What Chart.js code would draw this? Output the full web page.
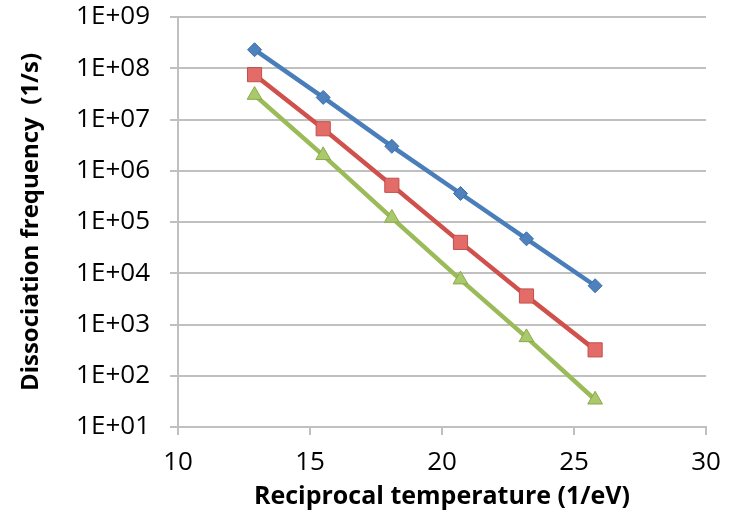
<!DOCTYPE html>
<html>
<head>
<meta charset="utf-8">
<script src="https://cdn.jsdelivr.net/npm/chart.js@4.4.1/dist/chart.umd.min.js"></script>
<style>
  html, body { margin: 0; padding: 0; background: #fff; }
  #wrap { width: 735px; height: 523px; }
</style>
</head>
<body>
<div id="wrap"><canvas id="grafico" width="735" height="523"></canvas></div>
<script>
// valores
const temperaturaRecip = [12.9, 15.5, 18.1, 20.7, 23.2, 25.8];
const serieAzul = [2.3e8, 2.7e7, 3.0e6, 3.6e5, 4.7e4, 5.7e3];
const serieRoja = [7.5e7, 6.6e6, 5.2e5, 4.0e4, 3.6e3, 3.2e2];
const serieVerde = [3.0e7, 2.0e6, 1.2e5, 7.5e3, 5.6e2, 34];

const ticksY = [1e1, 1e2, 1e3, 1e4, 1e5, 1e6, 1e7, 1e8, 1e9];
const etiquetasY = ["1E+01", "1E+02", "1E+03", "1E+04", "1E+05", "1E+06", "1E+07", "1E+08", "1E+09"];
const ticksX = [10, 15, 20, 25, 30];

const gris = "#c0c0c0";
const fuente = "'Open Sans', sans-serif";

function puntos(serie) {
  return temperaturaRecip.map((t, i) => ({ x: t, y: serie[i] }));
}

const ctx = document.getElementById("grafico").getContext("2d");

new Chart(ctx, {
  type: "line",
  data: {
    datasets: [
      {
        data: puntos(serieAzul),
        borderColor: "#4a7ebb",
        borderWidth: 4.5,
        pointStyle: "rectRot",
        pointRadius: 7,
        pointBackgroundColor: "#4f81bd",
        pointBorderColor: "#3d6ea8",
        pointBorderWidth: 1
      },
      {
        data: puntos(serieRoja),
        borderColor: "#d0504c",
        borderWidth: 4.5,
        pointStyle: "rect",
        pointRadius: 10,
        pointBackgroundColor: "#e46c68",
        pointBorderColor: "#c0504d",
        pointBorderWidth: 1
      },
      {
        data: puntos(serieVerde),
        borderColor: "#9bbb59",
        borderWidth: 4.5,
        pointStyle: "triangle",
        pointRadius: 8.5,
        pointBackgroundColor: "#a9c96a",
        pointBorderColor: "#8aa84c",
        pointBorderWidth: 1
      }
    ]
  },
  options: {
    responsive: false,
    animation: false,
    clip: false,
    layout: { padding: { top: 17, right: 29, left: 0, bottom: 0 } },
    plugins: { legend: { display: false }, tooltip: { enabled: false } },
    elements: { line: { tension: 0 } },
    scales: {
      x: {
        type: "linear",
        min: 10,
        max: 30,
        afterBuildTicks: s => { s.ticks = ticksX.map(v => ({ value: v })); },
        afterFit: s => { s.height = 96; s.paddingLeft = 0; s.paddingRight = 0; },
        grid: { drawOnChartArea: false, drawTicks: true, tickLength: 8, color: gris, lineWidth: 2 },
        border: { display: true, color: gris, width: 2 },
        ticks: { color: "#000", padding: 12, font: { family: fuente, size: 26 } },
        title: {
          display: true,
          text: "Reciprocal temperature (1/eV)",
          color: "#000",
          padding: { top: 0, bottom: 11 },
          font: { family: fuente, size: 25, weight: "bold" }
        }
      },
      y: {
        type: "logarithmic",
        min: 10,
        max: 1e9,
        afterBuildTicks: s => { s.ticks = ticksY.map(v => ({ value: v })); },
        afterFit: s => { s.width = 178; s.paddingTop = 0; s.paddingBottom = 0; },
        grid: { color: gris, lineWidth: 2, tickLength: 8 },
        border: { display: true, color: gris, width: 2 },
        ticks: {
          color: "#000",
          padding: 20,
          font: { family: fuente, size: 26 },
          callback: (v) => etiquetasY[ticksY.indexOf(v)]
        },
        title: {
          display: true,
          text: "Dissociation frequency  (1/s)",
          color: "#000",
          padding: { top: 17, bottom: 0 },
          font: { family: fuente, size: 24, weight: "bold" }
        }
      }
    }
  }
});
</script>
</body>
</html>
